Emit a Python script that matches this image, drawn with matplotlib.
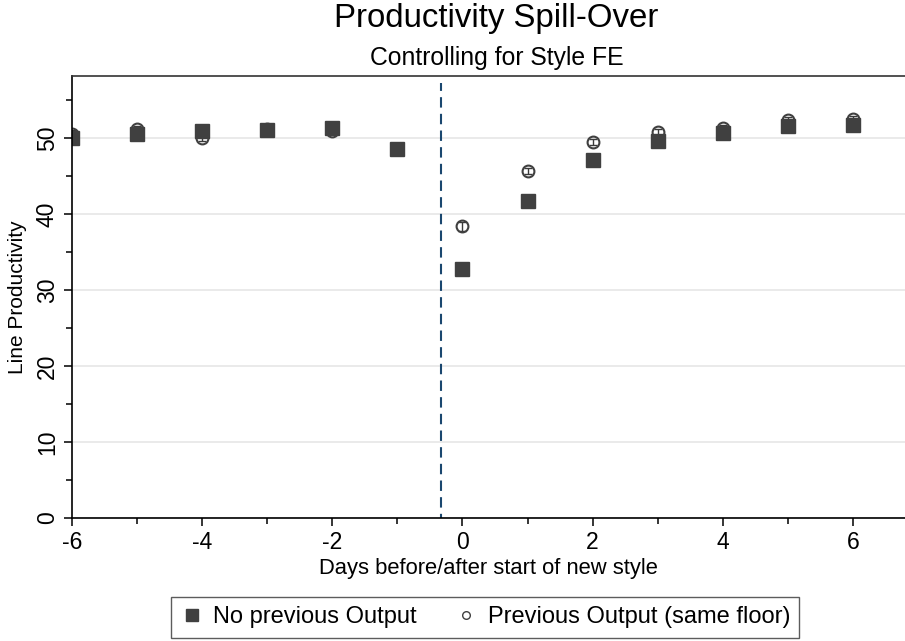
import matplotlib
matplotlib.use("Agg")
import matplotlib.pyplot as plt
import numpy as np

plt.rcParams['font.family'] = ['Liberation Sans', 'DejaVu Sans']
plt.rcParams['axes.unicode_minus'] = False

days = [-6, -5, -4, -3, -2, -1, 0, 1, 2, 3, 4, 5, 6]
no_prev = [50.0, 50.6, 51.0, 51.1, 51.4, 48.6, 32.8, 41.8, 47.2, 49.6, 50.7, 51.6, 51.8]
no_prev_err = [0.5, 0.4, 0.4, 0.4, 0.4, 0.4, 0.4, 0.4, 0.4, 0.4, 0.4, 0.4, 0.4]
prev = [50.6, 51.2, 50.1, 51.2, 50.9, 48.6, 38.4, 45.7, 49.5, 50.8, 51.4, 52.4, 52.5]
prev_err = [0.5, 0.4, 0.5, 0.4, 0.4, 0.4, 0.6, 0.4, 0.4, 0.4, 0.4, 0.4, 0.4]
event_line = -0.33

fig = plt.figure(figsize=(9.05, 6.41), dpi=100)
ax = fig.add_axes([72/905, 1-518/641, (905-72)/905, (518-76)/641])

ax.set_xlim(-6, 6.8)
ax.set_ylim(0, 58.2)
ax.set_yticks([0, 10, 20, 30, 40, 50])
ax.set_yticks([5, 15, 25, 35, 45, 55], minor=True)
ax.set_xticks([-6, -4, -2, 0, 2, 4, 6])
ax.set_xticks([-5, -3, -1, 1, 3, 5], minor=True)
ax.grid(axis='y', color='#e6e6e6', lw=1.2)
ax.set_axisbelow(True)
ax.spines['right'].set_visible(False)
for s in ['left', 'bottom', 'top']:
    ax.spines[s].set_linewidth(1.2)
ax.spines['top'].set_color('#333333')
ax.tick_params(axis='both', which='major', length=6, width=1.1, labelsize=16.5, direction='out')
ax.tick_params(axis='both', which='minor', length=4, width=1.1, direction='out')
for lbl in ax.get_yticklabels():
    lbl.set_rotation(90)
    lbl.set_va('center')

ax.axvline(event_line, ymax=0.985, color='#1a476f', lw=1.5, ls=(3, (5, 3)))

ax.errorbar(days, no_prev, yerr=no_prev_err, fmt='none', ecolor='#3a3a3a', elinewidth=1, capsize=3)
ax.errorbar(days, prev, yerr=prev_err, fmt='none', ecolor='#3a3a3a', elinewidth=1, capsize=3)
ax.plot(days, no_prev, ls='none', marker='s', ms=9.5, color='#404040', mec='#404040',
        label='No previous Output')
ax.plot(days, prev, ls='none', marker='o', ms=8.5, mfc='none', mec='#404040', mew=1.5,
        label='Previous Output (same floor)')

ax.set_xlabel('Days before/after start of new style', fontsize=15.8, labelpad=3)
ax.set_ylabel('Line Productivity', fontsize=15, labelpad=6)

fig.text(496/905, 1-18/641, 'Productivity Spill-Over', ha='center', va='center', fontsize=23.8)
fig.text(497/905, 1-58/641, 'Controlling for Style FE', ha='center', va='center', fontsize=17.8)

h1 = plt.Line2D([], [], ls='none', marker='s', ms=8, color='#404040')
h2 = plt.Line2D([], [], ls='none', marker='o', ms=5.5, mfc='none', mec='#404040', mew=1)
leg = fig.legend([h1, h2], ['No previous Output', 'Previous Output (same floor)'],
                 loc='upper center', bbox_to_anchor=(485/905, 1-597/641), ncol=2, fontsize=17,
                 frameon=True, fancybox=False, edgecolor='#333333', handletextpad=0.4,
                 columnspacing=1.6, borderpad=0.4, handlelength=1.0, borderaxespad=0)
leg.get_frame().set_linewidth(1.0)

fig.savefig('out.png', dpi=100)
